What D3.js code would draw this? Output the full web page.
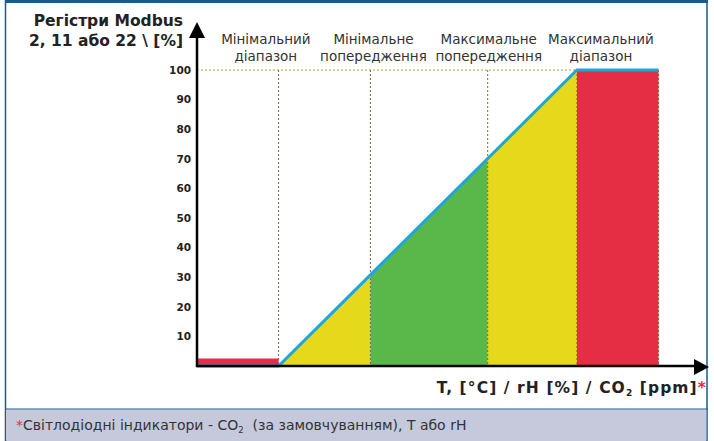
<!DOCTYPE html>
<html>
<head>
<meta charset="utf-8">
<script src="https://cdn.jsdelivr.net/npm/d3@7"></script>
<style>
  body { margin: 0; background: #fff; }
  svg { display: block; font-family: "DejaVu Sans", Verdana, sans-serif; }
</style>
</head>
<body>
<div id="chart"></div>
<script>
const width = 714;
const height = 441;

// zone boundaries along the x axis (arbitrary units)
const breaks = [0, 16, 34, 57, 74.5, 90.5];
// register value (%) of the output curve at each boundary
const curveValues = [0, 0, 30.8, 70.1, 100, 100];
const zoneColors = ["#e52d44", "#e6d81a", "#5ab84a", "#e6d81a", "#e52d44"];
const minBarValue = 2.5;

const zoneLabels = [
  ["Мінімальний", "діапазон"],
  ["Мінімальне", "попередження"],
  ["Максимальне", "попередження"],
  ["Максимальний", "діапазон"]
];
const labelX = [13.5, 34.6, 57.2, 79.2];

const yTicks = [10, 20, 30, 40, 50, 60, 70, 80, 90, 100];

const red = "#e52d44", blue = "#1ea5dc", frame = "#1b5a8c", dotted = "#7a6a36";

const svg = d3.select("#chart")
  .append("svg")
    .attr("width", width)
    .attr("height", height);

const xScale = d3.scaleLinear().domain([0, 100]).range([197, 707]);
const yScale = d3.scaleLinear().domain([0, 100]).range([366, 70]);

/* frame */
svg.append("rect")
  .attr("x", 5.5).attr("y", 0)
  .attr("width", 701.5).attr("height", 441)
  .attr("fill", "#fff")
  .attr("stroke", frame).attr("stroke-width", 1.5);
svg.append("rect")
  .attr("x", 5).attr("y", 0)
  .attr("width", 703).attr("height", 3)
  .attr("fill", frame);
svg.append("rect")
  .attr("x", 6.3).attr("y", 409.5)
  .attr("width", 700).attr("height", 32)
  .attr("fill", "#c6c9db");
svg.append("line")
  .attr("x1", 5).attr("x2", 708)
  .attr("y1", 409).attr("y2", 409)
  .attr("stroke", frame).attr("stroke-width", 1.2);

/* coloured zones under the curve */
const curve = breaks.map((b, i) => ({x: b, y: curveValues[i]}));
const area = d3.area()
  .x(d => xScale(d.x))
  .y0(yScale(0))
  .y1(d => yScale(d.y));

zoneColors.forEach((c, i) => {
  let pts = [curve[i], curve[i + 1]];
  if (i === 0) pts = [{x: breaks[0], y: minBarValue}, {x: breaks[1], y: minBarValue}];
  svg.append("path")
    .attr("d", area(pts))
    .attr("fill", c);
});

/* dotted guides */
svg.append("line")
  .attr("x1", xScale(0)).attr("x2", xScale(breaks[4]))
  .attr("y1", yScale(100)).attr("y2", yScale(100))
  .attr("stroke", "#b3a040").attr("stroke-width", 1.2)
  .attr("stroke-dasharray", "2,2");

svg.selectAll(".vguide")
  .data(breaks.slice(1))
  .join("line")
    .attr("class", "vguide")
    .attr("x1", d => xScale(d)).attr("x2", d => xScale(d))
    .attr("y1", yScale(100)).attr("y2", yScale(0))
    .attr("stroke", dotted).attr("stroke-width", 1)
    .attr("stroke-dasharray", "2,2");

/* output curve */
svg.append("path")
  .datum(curve)
  .attr("d", d3.line().x(d => xScale(d.x)).y(d => yScale(d.y)))
  .attr("fill", "none")
  .attr("stroke", blue)
  .attr("stroke-width", 3);

/* axes */
svg.append("line")
  .attr("x1", 197).attr("x2", 197)
  .attr("y1", yScale(0) + 1).attr("y2", 36)
  .attr("stroke", "#000").attr("stroke-width", 2.5);
svg.append("path")
  .attr("d", "M197,22 L189,38 L205,38 Z")
  .attr("fill", "#000");
svg.append("line")
  .attr("x1", 196).attr("x2", 697)
  .attr("y1", yScale(0)).attr("y2", yScale(0))
  .attr("stroke", "#000").attr("stroke-width", 2.5);
svg.append("path")
  .attr("d", "M709,367 L694,359 L694,375 Z")
  .attr("fill", "#000");

const leftAxis = d3.axisLeft(yScale)
  .tickValues(yTicks)
  .tickSize(0)
  .tickPadding(6);
svg.append("g")
  .attr("transform", "translate(197,0)")
  .call(leftAxis)
  .call(g => g.select(".domain").remove())
  .call(g => g.selectAll("text")
    .attr("font-family", "DejaVu Sans, sans-serif")
    .attr("font-size", 10.5)
    .attr("font-weight", "bold")
    .attr("fill", "#222"));

/* zone labels */
zoneLabels.forEach((lines, i) => {
  const t = svg.append("text")
    .attr("x", xScale(labelX[i]))
    .attr("y", 44)
    .attr("text-anchor", "middle")
    .attr("font-size", 13.5)
    .attr("fill", "#333");
  lines.forEach((l, j) => {
    t.append("tspan")
      .attr("x", xScale(labelX[i]))
      .attr("dy", j === 0 ? 0 : 17)
      .text(l);
  });
});

/* axis titles */
const yTitle = svg.append("text")
  .attr("text-anchor", "end")
  .attr("font-size", 15.5)
  .attr("font-weight", "bold")
  .attr("fill", "#222");
yTitle.append("tspan").attr("x", 183).attr("y", 26).text("Регістри Modbus");
yTitle.append("tspan").attr("x", 183).attr("y", 46).text("2, 11 або 22 \\ [%]");

const xTitle = svg.append("text")
  .attr("x", 707)
  .attr("y", 393)
  .attr("text-anchor", "end")
  .attr("font-size", 15.5)
  .attr("letter-spacing", 1.1)
  .attr("font-weight", "bold")
  .attr("fill", "#222");
xTitle.append("tspan").text("T, [°C] / rH [%] / CO");
xTitle.append("tspan").attr("font-size", 9).attr("dy", 3).text("2");
xTitle.append("tspan").attr("dy", -3).text(" [ppm]");
xTitle.append("tspan").attr("fill", red).text("*");

/* footnote */
const note = svg.append("text")
  .attr("x", 16)
  .attr("y", 430)
  .attr("font-size", 14)
  .attr("xml:space", "preserve")
  .attr("fill", "#333");
note.append("tspan").attr("fill", red).text("*");
note.append("tspan").text("Світлодіодні індикатори - CO");
note.append("tspan").attr("font-size", 8.5).attr("dy", 3).text("2");
note.append("tspan").attr("dy", -3).text("  (за замовчуванням), T або rH");
</script>
</body>
</html>
